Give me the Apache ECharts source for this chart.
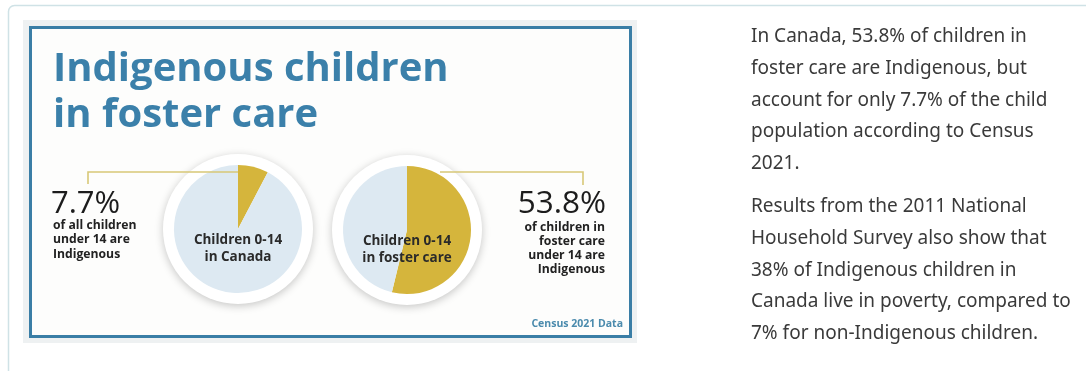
<!DOCTYPE html>
<html>
<head>
<meta charset="utf-8">
<script src="https://cdn.jsdelivr.net/npm/echarts@6/dist/echarts.min.js"></script>
<style>
html,body{margin:0;padding:0;background:#fff;}
#chart{width:1086px;height:371px;}
</style>
</head>
<body>
<div id="chart"></div>
<script>
// ---- data ----
var titleLines = ['Indigenous children', 'in foster care'];
var pieCategories = ['Indigenous', 'Non-Indigenous'];
var canadaValues = [7.7, 92.3];
var fosterValues = [53.8, 46.2];
var pieNames = ['Children 0-14\nin Canada', 'Children 0-14\nin foster care'];
var leftPct = '7.7%';
var leftDesc = ['of all children', 'under 14 are', 'Indigenous'];
var rightPct = '53.8%';
var rightDesc = ['of children in', 'foster care', 'under 14 are', 'Indigenous'];
var sourceNote = 'Census 2021 Data';
var para1 = ['In Canada, 53.8% of children in', 'foster care are Indigenous, but', 'account for only 7.7% of the child', 'population according to Census', '2021.'];
var para2 = ['Results from the 2011 National', 'Household Survey also show that', '38% of Indigenous children in', 'Canada live in poverty, compared to', '7% for non-Indigenous children.'];

// ---- styles ----
var GOLD = '#d5b53c', PALE = '#dde9f2', BLUE = '#3a7ea6', LINE = '#d8c877';
var C1 = [238, 229], C2 = [407, 230], R = 64, RING = 75;
var FONT = '"Open Sans"';

var chart = echarts.init(document.getElementById('chart'));

function pieData(vals) {
  return vals.map(function (v, i) {
    return { name: pieCategories[i], value: v, itemStyle: { color: i === 0 ? GOLD : PALE } };
  });
}

var graphics = [];
// outer page card frame
graphics.push({ type: 'rect', z: 0, shape: { x: 8.5, y: 5.5, width: 1200, height: 400, r: 6 },
  style: { fill: '#fff', stroke: '#cfe2e6', lineWidth: 1.5 } });
// image background and blue frame
graphics.push({ type: 'rect', z: 1, shape: { x: 23, y: 20, width: 614, height: 323 },
  style: { fill: '#eef1f2' } });
graphics.push({ type: 'rect', z: 1, shape: { x: 30.5, y: 27.5, width: 600, height: 309 },
  style: { fill: '#fdfdfc', stroke: BLUE, lineWidth: 3 } });
// title
titleLines.forEach(function (t, i) {
  graphics.push({ type: 'text', z: 5, x: 53, y: 70 + i * 46,
    style: { text: t, fill: '#3b80aa', font: 'bold 40px ' + FONT, textVerticalAlign: 'middle' } });
});
// white rings behind pies
[C1, C2].forEach(function (c) {
  graphics.push({ type: 'circle', z: 2, shape: { cx: c[0], cy: c[1], r: RING },
    style: { fill: '#ffffff', shadowBlur: 8, shadowColor: 'rgba(0,0,0,0.22)', shadowOffsetY: 2 } });
});
// connector lines
graphics.push({ type: 'polyline', z: 20, shape: { points: [[88, 184], [88, 172], [238, 172]] },
  style: { stroke: LINE, lineWidth: 1.6, fill: null } });
graphics.push({ type: 'polyline', z: 20, shape: { points: [[440, 172], [583, 172], [583, 185]] },
  style: { stroke: LINE, lineWidth: 1.6, fill: null } });
// pie labels
pieNames.forEach(function (t, i) {
  var c = i === 0 ? C1 : C2;
  graphics.push({ type: 'text', z: 30, x: c[0], y: c[1] + 20,
    style: { text: t, fill: '#2a2a2a', font: 'bold 13.5px ' + FONT, textAlign: 'center', textVerticalAlign: 'middle', lineHeight: 17 } });
});
// left callout
graphics.push({ type: 'text', z: 30, x: 51, y: 204,
  style: { text: leftPct, fill: '#1c1c1c', font: '31px ' + FONT, textVerticalAlign: 'middle' } });
graphics.push({ type: 'text', z: 30, x: 53, y: 240,
  style: { text: leftDesc.join('\n'), fill: '#222', font: 'bold 12.2px ' + FONT, textVerticalAlign: 'middle', lineHeight: 14.5 } });
// right callout
graphics.push({ type: 'text', z: 30, x: 606, y: 204,
  style: { text: rightPct, fill: '#1c1c1c', font: '31.5px ' + FONT, textAlign: 'right', textVerticalAlign: 'middle' } });
graphics.push({ type: 'text', z: 30, x: 605, y: 249,
  style: { text: rightDesc.join('\n'), fill: '#222', font: 'bold 12.2px ' + FONT, textAlign: 'right', textVerticalAlign: 'middle', lineHeight: 14 } });
// source
graphics.push({ type: 'text', z: 30, x: 623, y: 324,
  style: { text: sourceNote, fill: '#4b8bad', font: 'bold 10.5px ' + FONT, textAlign: 'right', textVerticalAlign: 'middle' } });
// right paragraphs
para1.forEach(function (t, i) {
  graphics.push({ type: 'text', z: 30, x: 751, y: 37 + i * 31.6,
    style: { text: t, fill: '#3a3a3a', font: '19px "Noto Sans"', textVerticalAlign: 'middle' } });
});
para2.forEach(function (t, i) {
  graphics.push({ type: 'text', z: 30, x: 751, y: 207 + i * 31.6,
    style: { text: t, fill: '#3a3a3a', font: '19px "Noto Sans"', textVerticalAlign: 'middle' } });
});

chart.setOption({
  animation: false,
  graphic: graphics,
  series: [
    { type: 'pie', z: 10, center: C1, radius: R, startAngle: 90, clockwise: true,
      label: { show: false }, labelLine: { show: false }, silent: true,
      data: pieData(canadaValues) },
    { type: 'pie', z: 10, center: C2, radius: R, startAngle: 90, clockwise: true,
      label: { show: false }, labelLine: { show: false }, silent: true,
      data: pieData(fosterValues) }
  ]
});
</script>
</body>
</html>
